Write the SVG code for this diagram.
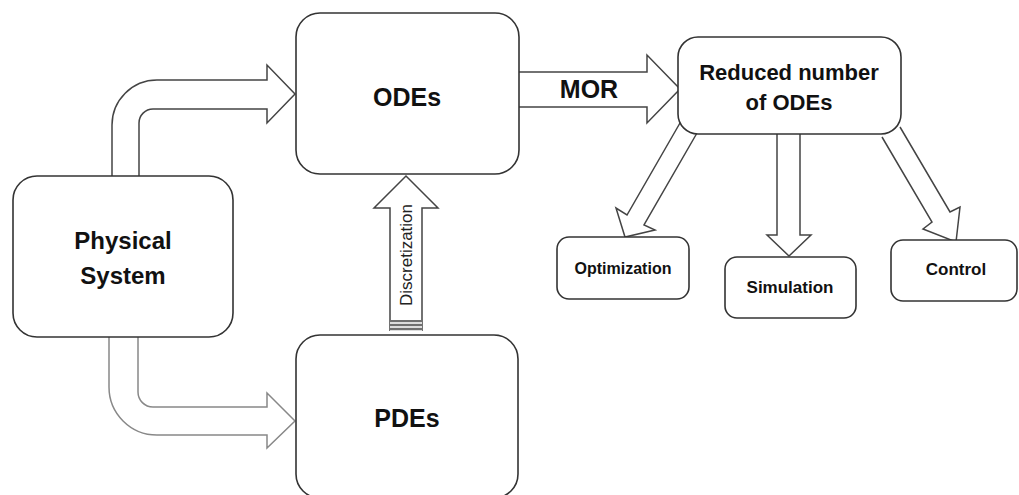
<svg xmlns="http://www.w3.org/2000/svg" width="1019" height="495" viewBox="0 0 1019 495">
<style>
.box{fill:#fff;stroke:#333;stroke-width:1.6}
.arr{fill:#fff;stroke:#444;stroke-width:1.5;stroke-linejoin:miter}
.lt{stroke:#888}
.t{font-family:"Liberation Sans",Arial,sans-serif;font-weight:bold;fill:#111;text-anchor:middle}
.d{font-family:"Liberation Sans",Arial,sans-serif;font-size:17px;fill:#222;text-anchor:middle}
</style>
<rect width="1019" height="495" fill="#fff"/>
<g id="connectors">
  <path class="arr" d="M112,176 V125 A45,45 0 0 1 157,80 H267 V65 L295,94 L267,123 V109 H153 A14,14 0 0 0 139,123 V176"/>
  <path class="arr lt" d="M109,337 V387 A48,48 0 0 0 157,435 H267 V448 L295,421 L267,393 V407 H153 A15,15 0 0 1 138,392 V337"/>
  <path class="arr" d="M519,72 H647 V55 L680,89 L647,123 V107 H519"/>
  <g id="discretization">
    <path class="arr" stroke="#555" d="M390,331 V208 H374 L406,176 L438,208 H422 V331"/>
    <rect x="390" y="320" width="32" height="11" fill="#ddd"/>
    <g stroke="#555" stroke-width="1.6">
      <line x1="390" y1="321" x2="422" y2="321"/>
      <line x1="390" y1="325" x2="422" y2="325"/>
      <line x1="390" y1="329" x2="422" y2="329"/>
    </g>
    <text class="d" transform="translate(412,255) rotate(-90)">Discretization</text>
  </g>
  <path class="arr" d="M680,123 L627,215 L616,208 L625,237 L655,230 L644,225 L697,133"/>
  <path class="arr" d="M777,120 V235 H767 L789,256 L811,235 H800 V120"/>
  <path class="arr" d="M882,137 L932,222 L923,229 L956,242 L960,207 L950,212 L900,127"/>
</g>
<g id="node-physical">
  <rect class="box" x="13" y="176" width="220" height="161" rx="24"/>
  <text class="t" font-size="24" x="123" y="249">Physical</text>
  <text class="t" font-size="24" x="123" y="284">System</text>
</g>
<g id="node-odes">
  <rect class="box" x="296" y="13" width="223" height="161" rx="24"/>
  <text class="t" font-size="25" x="407" y="106">ODEs</text>
</g>
<g id="node-pdes">
  <rect class="box" x="296" y="335" width="222" height="163" rx="24"/>
  <text class="t" font-size="25" x="407" y="427">PDEs</text>
</g>
<g id="mor-label">
  <text class="t" font-size="25" x="589" y="98">MOR</text>
</g>
<g id="node-reduced">
  <rect class="box" x="678" y="37" width="223" height="97" rx="20"/>
  <text class="t" font-size="22" x="789" y="80">Reduced number</text>
  <text class="t" font-size="22" x="789" y="110">of ODEs</text>
</g>
<g id="node-optimization">
  <rect class="box" x="557" y="237" width="132" height="62" rx="12"/>
  <text class="t" font-size="16" x="623" y="274">Optimization</text>
</g>
<g id="node-simulation">
  <rect class="box" x="725" y="257" width="131" height="61" rx="12"/>
  <text class="t" font-size="17" x="790" y="293">Simulation</text>
</g>
<g id="node-control">
  <rect class="box" x="891" y="240" width="126" height="61" rx="12"/>
  <text class="t" font-size="17" x="956" y="275">Control</text>
</g>
</svg>
